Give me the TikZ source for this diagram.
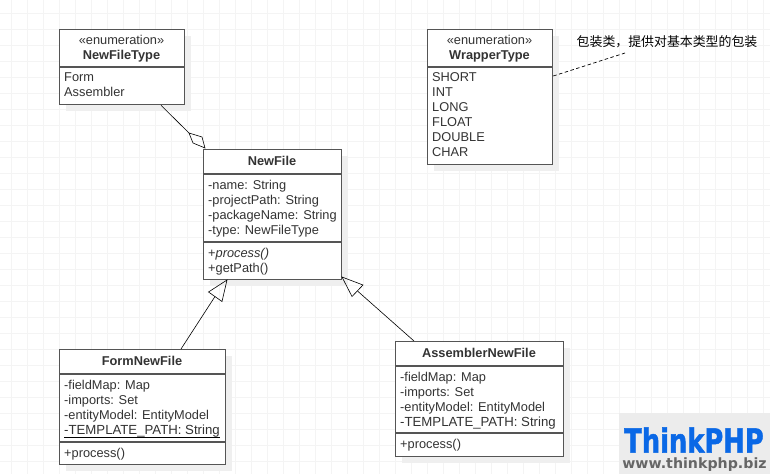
\documentclass[tikz,border=0pt]{standalone}
\usepackage{fontspec}
\setmainfont{Liberation Sans}
\newfontfamily\cjkfont{Noto Sans CJK SC}
\newfontfamily\logofont{DejaVu Sans}
\newfontfamily\logoheavy{DejaVu Sans}[UprightFont=* Bold,FakeBold=1.5]
\definecolor{gridc}{HTML}{F4F4F4}
\definecolor{shadowc}{HTML}{EFEFEF}
\definecolor{edgec}{HTML}{555555}
\definecolor{textc}{HTML}{333333}
\definecolor{logobg}{HTML}{ECECEC}
\definecolor{logoblue}{HTML}{0A68E6}
\definecolor{logogray}{HTML}{666666}
\tikzset{
  classbox/.style={draw=edgec,line width=1.3pt,fill=white,rectangle,inner sep=0pt,anchor=north west,minimum width=#1},
  divider/.style={edgec,line width=1.3pt},
  titletext/.style={font=\fontsize{12.8}{15}\selectfont,text=textc,align=center,inner sep=0pt,anchor=north},
  membertext/.style={font=\fontsize{12.8}{15}\selectfont,text=textc,align=left,inner sep=0pt,anchor=north west},
  assoc/.style={black,line width=0.6pt},
}
\newcommand{\umlbox}[6]{% name, x1, y1, x2, y2 (text added separately)
  \fill[shadowc] (#2+7,#3+7) rectangle (#4+7,#5+7);
  \node[classbox=#4 pt-#2 pt,minimum height=#5 pt-#3 pt] (#1) at (#2,#3) {#6};
}
\newcommand{\tplpath}{{\fontsize{13.2}{15}\selectfont -TEMPLATE\_PATH: String}}
\begin{document}
\begin{tikzpicture}[x=1pt,y=-1pt]
\useasboundingbox (0,0) rectangle (770,474);
\fill[white] (0,0) rectangle (770,474);
\foreach \gx in {11.5,27.5,...,770} \draw[gridc,line width=0.8pt] (\gx,0) -- (\gx,474);
\foreach \gy in {13.5,29.5,...,474} \draw[gridc,line width=0.8pt] (0,\gy) -- (770,\gy);

% classes
\umlbox{nft}{59}{29}{184}{104}{}
\draw[divider] (nft.west |- 0,67) -- (nft.east |- 0,67);
\node[titletext] (nftt) at (121.5,33.5) {\strut«enumeration»\\\strut\textbf{NewFileType}};
\node[membertext] (nftm) at (64,71) {\strut Form\\Assembler};

\umlbox{wt}{427}{29}{552}{164}{}
\draw[divider] (wt.west |- 0,67) -- (wt.east |- 0,67);
\node[titletext] (wtt) at (489.5,33.5) {\strut«enumeration»\\\strut\textbf{WrapperType}};
\node[membertext] (wtm) at (432,71) {\strut SHORT\\INT\\LONG\\FLOAT\\DOUBLE\\CHAR};

\umlbox{nf}{203}{149}{341}{279}{}
\draw[divider] (nf.west |- 0,174) -- (nf.east |- 0,174);
\draw[divider] (nf.west |- 0,242) -- (nf.east |- 0,242);
\node[titletext] (nft2) at (272,155) {\strut\textbf{NewFile}};
\node[membertext] (nfa) at (208,179) {\strut-name: String\\-projectPath: String\\-packageName: String\\-type: NewFileType};
\node[membertext] (nfo) at (208,246.5) {\strut+\textit{process()}\\+getPath()};

\umlbox{fnf}{59}{349}{225}{464}{}
\draw[divider] (fnf.west |- 0,374) -- (fnf.east |- 0,374);
\draw[divider] (fnf.west |- 0,442) -- (fnf.east |- 0,442);
\node[titletext] (fnft) at (142,355) {\strut\textbf{FormNewFile}};
\node[membertext] (fnfa) at (64,379) {\strut-fieldMap: Map\\-imports: Set\\-entityModel: EntityModel\\\leavevmode\rlap{\color{black}\rule[-2.8pt]{156pt}{0.9pt}}\tplpath};
\node[membertext] (fnfo) at (64,446.5) {\strut+process()};

\umlbox{anf}{395}{341}{563}{456}{}
\draw[divider] (anf.west |- 0,366) -- (anf.east |- 0,366);
\draw[divider] (anf.west |- 0,433) -- (anf.east |- 0,433);
\node[titletext] (anft) at (479,347) {\strut\textbf{AssemblerNewFile}};
\node[membertext] (anfa) at (400,371) {\strut-fieldMap: Map\\-imports: Set\\-entityModel: EntityModel\\\tplpath};
\node[membertext] (anfo) at (400,438) {\strut+process()};

% note
\node[inner sep=0pt,font=\cjkfont\fontsize{12.9}{15}\selectfont,text=black] (note) at (667,41.5) {包装类，提供对基本类型的包装};
\coordinate (noteend) at (625,53);
\draw[black,line width=0.7pt,dash pattern=on 3.5pt off 2.5pt] (wt.east |- 0,76) -- (noteend);

% connectors
\coordinate (aggfrom) at (nft.south -| 161,0);
\coordinate (aggback) at (189,133);
\draw[assoc] (aggfrom) -- (aggback);
\draw[assoc] (aggback) -- (202,137) -- (205,148) -- (193,143) -- cycle;

\coordinate (f1) at (fnf.north -| 181,0);
\coordinate (f2) at (215,296.5);
\draw[assoc] (f1) -- (f2);
\draw[assoc] (227,280) -- (208.5,292) -- (222,301.5) -- cycle;

\coordinate (a1) at (anf.north -| 414,0);
\coordinate (a2) at (357.5,291);
\draw[assoc] (a1) -- (a2);
\draw[assoc] (342,277) -- (363,285) -- (352,296.5) -- cycle;

% logo
\fill[logobg] (619,413) rectangle (770,474);
\node[inner sep=0pt,anchor=base,text=logoblue,font=\logoheavy\fontsize{33}{33}\selectfont,xscale=0.78,transform shape] (logo1) at (694,452.5) {ThinkPHP};
\node[inner sep=0pt,anchor=base,text=logogray,font=\logofont\bfseries\fontsize{14.2}{15}\selectfont] (logo2) at (694.5,468.5) {www.thinkphp.biz};
\end{tikzpicture}
\end{document}
